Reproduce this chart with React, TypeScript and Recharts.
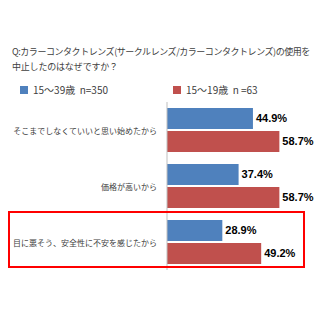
import { BarChart, Bar, XAxis, YAxis, LabelList } from 'recharts'

const categories = [
  'そこまでしなくていいと思い始めたから',
  '価格が高いから',
  '目に悪そう、安全性に不安を感じたから',
]
const adultValues = [44.9, 37.4, 28.9]
const teenValues = [58.7, 58.7, 49.2]
const seriesNames = ['15〜39歳\u00a0\u00a0n=350', '15〜19歳\u00a0\u00a0n =63']
const titleLines = [
  'Q:カラーコンタクトレンズ(サークルレンズ/カラーコンタクトレンズ)の使用を',
  '中止したのはなぜですか？',
]

const BLUE = '#4f81bd'
const RED = '#c0504d'
const JP = '"Noto Sans CJK JP", "Noto Sans", sans-serif'

const data = categories.map((name, i) => ({
  name,
  adult: adultValues[i],
  teen: teenValues[i],
}))

function CategoryTick(props: any) {
  const { x, y, payload } = props
  return (
    <text x={x} y={y} textAnchor="end" dominantBaseline="central" fontSize={8} fill="#404040" fontFamily={JP}>
      {payload.value}
    </text>
  )
}

const pct = (v: any) => `${Number(v).toFixed(1)}%`

export default function App() {
  return (
    <div style={{ position: 'absolute', left: 0, top: 0, width: 320, height: 320, background: '#fff', fontFamily: JP, color: '#404040' }}>
      {/* タイトル */}
      <div style={{ position: 'absolute', left: 12, top: 44, fontSize: 9, lineHeight: '15px', whiteSpace: 'nowrap' }}>
        <div style={{ letterSpacing: -0.45 }}>{titleLines[0]}</div>
        <div style={{ letterSpacing: -0.2 }}>{titleLines[1]}</div>
      </div>

      {/* 凡例 */}
      {seriesNames.map((label, i) => (
        <div key={label} style={{ position: 'absolute', left: i === 0 ? 20 : 173, top: 82, display: 'flex', alignItems: 'center', fontSize: 10, whiteSpace: 'nowrap' }}>
          <span style={{ display: 'inline-block', width: 8, height: 8, background: i === 0 ? BLUE : RED, marginRight: 5 }} />
          <span>{label}</span>
        </div>
      ))}

      <div style={{ position: 'absolute', left: 0, top: 0 }}>
        <BarChart
          width={320}
          height={320}
          data={data}
          layout="vertical"
          margin={{ top: 102, right: 19, bottom: 50, left: 0 }}
          barGap={2}
          barCategoryGap={6}
        >
          <XAxis type="number" domain={[0, 70]} hide />
          <YAxis
            type="category"
            dataKey="name"
            width={167}
            axisLine={{ stroke: '#bfbfbf' }}
            tickLine={false}
            tickMargin={4}
            tick={CategoryTick}
            interval={0}
          />
          <Bar dataKey="adult" fill={BLUE} barSize={21} isAnimationActive={false}>
            <LabelList dataKey="adult" position="right" offset={3} formatter={pct}
              style={{ fontSize: 11, fontWeight: 'bold', fill: '#000', fontFamily: '"Liberation Sans", Arial, sans-serif' }} />
          </Bar>
          <Bar dataKey="teen" fill={RED} barSize={21} isAnimationActive={false}>
            <LabelList dataKey="teen" position="right" offset={3} formatter={pct}
              style={{ fontSize: 11, fontWeight: 'bold', fill: '#000', fontFamily: '"Liberation Sans", Arial, sans-serif' }} />
          </Bar>
        </BarChart>
      </div>

      {/* 強調枠 */}
      <div style={{ position: 'absolute', left: 8, top: 211, width: 297, height: 57, border: '2.5px solid #ff0000', boxSizing: 'border-box', pointerEvents: 'none' }} />
    </div>
  )
}
